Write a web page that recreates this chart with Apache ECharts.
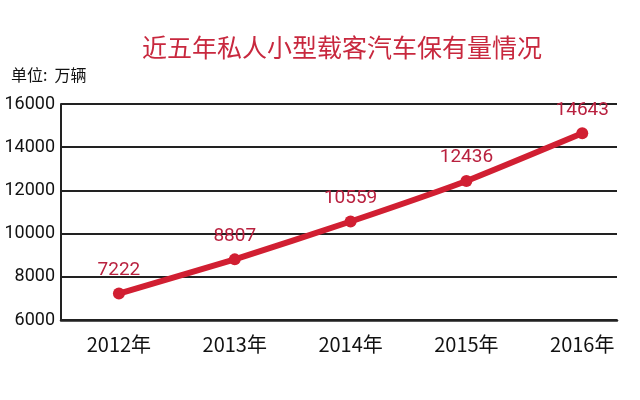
<!DOCTYPE html>
<html><head><meta charset="utf-8">
<script src="https://cdn.jsdelivr.net/npm/echarts@6/dist/echarts.min.js"></script>
<style>html,body{margin:0;padding:0;background:#fff}#c{width:640px;height:400px}</style>
</head><body><div id="c"></div>
<script>
const categories = ['2012年', '2013年', '2014年', '2015年', '2016年'];
const values = [7222, 8807, 10559, 12436, 14643];
const yMin = 6000, yMax = 16000, yStep = 2000;
const titleText = '近五年私人小型载客汽车保有量情况';
const unitText = '单位:  万辆';

const chart = echarts.init(document.getElementById('c'), null, {renderer: 'canvas'});
chart.setOption({
  backgroundColor: '#ffffff',
  animation: false,
  title: [
    {text: titleText, left: 337, top: 30, textAlign: 'center',
     textStyle: {color: '#c8283e', fontSize: 25, fontWeight: 'normal', fontFamily: 'Noto Sans CJK SC'}},
    {text: unitText, left: 6, top: 62,
     textStyle: {color: '#111', fontSize: 16, fontWeight: 'normal', fontFamily: 'Noto Sans CJK SC'}}
  ],
  grid: {left: 61, right: 23, top: 104, bottom: 80, outerBoundsMode: 'none', containLabel: false},
  xAxis: {
    type: 'value', min: -0.5, max: 4.3,
    axisLine: {show: true, onZero: false, lineStyle: {color: '#222', width: 2.5}},
    axisTick: {show: false},
    splitLine: {show: false},
    axisLabel: {
      customValues: categories.map((c, i) => i),
      formatter: v => categories[Math.round(v)] || '',
      color: '#111', fontSize: 20, margin: 14,
      fontFamily: 'Noto Sans CJK SC'
    }
  },
  yAxis: {
    type: 'value', min: yMin, max: yMax, interval: yStep,
    axisLine: {show: true, onZero: false, lineStyle: {color: '#222', width: 2}},
    axisTick: {show: false},
    splitLine: {show: true, lineStyle: {color: '#222', width: 2}},
    axisLabel: {color: '#111', fontSize: 18, margin: 6,
      formatter: v => String(v),
      fontFamily: 'Roboto, sans-serif'}
  },
  series: [{
    type: 'line',
    data: values.map((v, i) => [i, v]),
    smooth: 0.15,
    symbol: 'circle', symbolSize: 12,
    lineStyle: {color: '#d11f32', width: 6},
    itemStyle: {color: '#d11f32'},
    label: {show: true, position: 'top', distance: 8,
      formatter: p => String(p.value[1]),
      color: '#b9213f', fontSize: 19,
      fontFamily: 'Roboto, sans-serif'}
  }]
});
</script></body></html>
